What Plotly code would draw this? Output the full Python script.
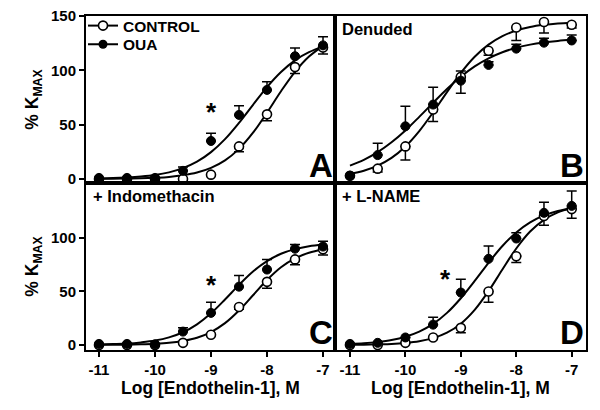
import plotly.graph_objects as go
from plotly.subplots import make_subplots

FONT = "Liberation Sans, Arial, sans-serif"

# ---- data ----
log_conc = [-11, -10.5, -10, -9.5, -9, -8.5, -8, -7.5, -7]
curve_x = [-11, -10.75, -10.5, -10.25, -10, -9.75, -9.5, -9.25, -9,
           -8.75, -8.5, -8.25, -8, -7.75, -7.5, -7.25, -7]

x_tick_vals = [-11, -10, -9, -8, -7]
x_tick_text = ["-11", "-10", "-9", "-8", "-7"]
y_tick_vals_top = [0, 50, 100, 150]
y_tick_vals_bottom = [0, 50, 100]

panel_letters = ["A", "B", "C", "D"]
panel_titles = ["", "Denuded", "+ Indomethacin", "+ L-NAME"]
series_names = ["CONTROL", "OUA"]

# Panel A
A_ctrl = [0, 0, 0, 0, 4, 30, 59.5, 103, 121]
A_ctrl_err = [0, 0, 0, 0, 0, 5, 6, 6, 6]
A_oua = [1, 1, 1, 7.5, 35, 59, 82, 113, 123]
A_oua_err = [0, 0, 0, 3.5, 7, 8.5, 7.5, 7.5, 8]
A_ctrl_fit = [0.1, 0.2, 0.4, 0.6, 1.1, 1.9, 3.4, 5.9, 10.2, 17.1, 27.7, 42.6, 61.1, 80.8, 98.7, 112.7, 122.6]
A_oua_fit = [0.5, 0.8, 1.4, 2.3, 3.7, 6.1, 10.0, 15.9, 24.7, 36.7, 51.7, 68.3, 84.6, 98.5, 109.2, 116.7, 121.8]

# Panel B (Denuded)
B_ctrl = [3, 9.5, 30, 64, 94, 118, 139.5, 144.5, 142]
B_ctrl_err = [0, 3, 12.5, 11, 15, 4, 12, 10, 3]
B_oua = [3, 22, 48.5, 68.5, 90.5, 105, 120, 125.5, 127.5]
B_oua_err = [0, 11, 18.5, 16, 9, 3, 4, 4, 5]
B_ctrl_fit = [4.6, 7.6, 12.3, 19.4, 29.9, 44.1, 61.3, 80.0, 97.7, 112.6, 123.7, 131.5, 136.7, 139.9, 141.9, 143.2, 143.9]
B_oua_fit = [12.3, 17.6, 24.7, 33.8, 44.7, 57.2, 70.2, 82.9, 94.2, 103.7, 111.1, 116.7, 120.8, 123.7, 125.7, 127.1, 128.1]

# Panel C (+ Indomethacin)
C_ctrl = [0, 0, 0, 2, 9.5, 35.5, 59, 80, 89.5]
C_ctrl_err = [0, 0, 0, 0, 0, 2, 6, 5, 5.5]
C_oua = [1, 1, 0.5, 12.5, 30, 54.5, 70.5, 90, 92]
C_oua_err = [0, 0, 0, 3.5, 10, 10.5, 9.5, 4, 5]
C_ctrl_fit = [0.1, 0.2, 0.3, 0.6, 1.1, 2.0, 3.8, 6.8, 12.1, 20.4, 32.2, 46.5, 60.7, 72.6, 80.9, 86.2, 89.2]
C_oua_fit = [0.4, 0.8, 1.3, 2.4, 4.1, 7.1, 11.9, 19.3, 29.6, 42.5, 56.2, 68.7, 78.4, 85.3, 89.6, 92.3, 93.9]

# Panel D (+ L-NAME)
D_ctrl = [0, 0, 2, 7, 16, 50, 83, 120.5, 127]
D_ctrl_err = [0, 0, 0, 0, 4.5, 10, 6, 8.5, 8.5]
D_oua = [1, 2, 7, 19, 49, 80.5, 99.5, 123.5, 130]
D_oua_err = [0, 0, 0, 7, 12.5, 12, 5.5, 10, 14]
D_ctrl_fit = [0.2, 0.3, 0.6, 1.0, 1.9, 3.5, 6.4, 11.5, 19.9, 32.8, 50.3, 70.6, 90.2, 106.0, 117.0, 123.9, 128.0]
D_oua_fit = [1.0, 1.7, 2.9, 4.7, 7.7, 12.5, 19.7, 30.0, 43.7, 59.9, 76.8, 92.5, 105.2, 114.6, 121.1, 125.3, 127.9]

# significance markers: (panel index, x, y)
star_panels = [0, 2, 3]
star_x = [-9, -9, -9.28]
star_y = [62, 56, 62]

panels = [
    (A_ctrl, A_ctrl_err, A_oua, A_oua_err, A_ctrl_fit, A_oua_fit),
    (B_ctrl, B_ctrl_err, B_oua, B_oua_err, B_ctrl_fit, B_oua_fit),
    (C_ctrl, C_ctrl_err, C_oua, C_oua_err, C_ctrl_fit, C_oua_fit),
    (D_ctrl, D_ctrl_err, D_oua, D_oua_err, D_ctrl_fit, D_oua_fit),
]
positions = [(1, 1), (1, 2), (2, 1), (2, 2)]

fig = make_subplots(rows=2, cols=2, horizontal_spacing=0, vertical_spacing=0,
                    column_widths=[249, 251], row_heights=[167, 167])

zeros = [0] * len(log_conc)
for i, (pdata, (r, c)) in enumerate(zip(panels, positions)):
    ctrl, ctrl_err, oua, oua_err, ctrl_fit, oua_fit = pdata
    for fit in (ctrl_fit, oua_fit):
        fig.add_trace(go.Scatter(x=curve_x, y=fit, mode="lines",
                                 line=dict(color="black", width=2, shape="spline"),
                                 showlegend=False, hoverinfo="skip"), row=r, col=c)
    fig.add_trace(go.Scatter(
        x=log_conc, y=ctrl, mode="markers", showlegend=False,
        marker=dict(symbol="circle", size=9, color="white",
                    line=dict(color="black", width=1.6)),
        error_y=dict(type="data", symmetric=False, array=zeros, arrayminus=ctrl_err,
                     color="black", thickness=1.5, width=5)), row=r, col=c)
    fig.add_trace(go.Scatter(
        x=log_conc, y=oua, mode="markers", showlegend=False,
        marker=dict(symbol="circle", size=9, color="black",
                    line=dict(color="black", width=1)),
        error_y=dict(type="data", symmetric=False, array=oua_err, arrayminus=zeros,
                     color="black", thickness=1.5, width=5)), row=r, col=c)

# legend entries (one legend per row so the spacing can follow the reference)
fig.add_trace(go.Scatter(x=[None], y=[None], mode="lines+markers", name=series_names[0],
                         legend="legend",
                         line=dict(color="black", width=2),
                         marker=dict(size=9, color="white", line=dict(color="black", width=1.6))),
              row=1, col=1)
fig.add_trace(go.Scatter(x=[None], y=[None], mode="lines+markers", name=series_names[1],
                         legend="legend2",
                         line=dict(color="black", width=2),
                         marker=dict(size=9, color="black")),
              row=1, col=1)

axis_common = dict(showline=True, mirror=True, linewidth=2, linecolor="black",
                   showgrid=False, zeroline=False, automargin=False,
                   ticklabeloverflow="allow",
                   tickfont=dict(family=FONT, size=15, color="black", weight="bold"))
x_ranges = {1: [-11.232, -6.786], 2: [-11.27, -6.742]}
y_ranges = {1: [-3.7, 150.05], 2: [-4.7, 151.4]}
for (r, c) in positions:
    xa = dict(axis_common, range=x_ranges[c])
    ya = dict(axis_common, range=y_ranges[r])
    if r == 2:
        xa.update(ticks="outside", ticklen=5, tickwidth=2, tickcolor="black",
                  tickvals=x_tick_vals, ticktext=x_tick_text,
                  title=dict(text="Log [Endothelin-1], M",
                             font=dict(family=FONT, size=17.5, color="black", weight="bold"),
                             standoff=1))
    else:
        xa.update(ticks="", showticklabels=False)
    if c == 1:
        ya.update(ticks="outside", ticklen=5, tickwidth=2, tickcolor="black",
                  tickvals=y_tick_vals_top if r == 1 else y_tick_vals_bottom,
                  title=dict(text="% K<sub>MAX</sub>",
                             font=dict(family=FONT, size=17.5, color="black", weight="bold"),
                             standoff=8))
    else:
        ya.update(ticks="", showticklabels=False)
    fig.update_xaxes(xa, row=r, col=c)
    fig.update_yaxes(ya, row=r, col=c)

axis_ids = ["", "2", "3", "4"]
annotations = []
for i, aid in enumerate(axis_ids):
    annotations.append(dict(text=panel_letters[i], xref=f"x{aid} domain", yref=f"y{aid} domain",
                            x=1, y=0, xanchor="right", yanchor="bottom", showarrow=False,
                            xshift=0, yshift=-3,
                            font=dict(family=FONT, size=33, color="black", weight="bold")))
    if panel_titles[i]:
        annotations.append(dict(text=panel_titles[i], xref=f"x{aid} domain", yref=f"y{aid} domain",
                                x=0, y=1, xanchor="left", yanchor="top", showarrow=False,
                                xshift=5, yshift=-2,
                                font=dict(family=FONT, size=16.5, color="black", weight="bold")))
for p, sx, sy in zip(star_panels, star_x, star_y):
    aid = axis_ids[p]
    annotations.append(dict(text="*", xref=f"x{aid}", yref=f"y{aid}", x=sx, y=sy,
                            showarrow=False, yanchor="middle",
                            font=dict(family=FONT, size=26, color="black", weight="bold")))

legend_style = dict(xanchor="left", yanchor="middle", bgcolor="rgba(0,0,0,0)",
                    itemwidth=30, borderwidth=0,
                    font=dict(family=FONT, size=15.5, color="black", weight="bold"))
# the page body adds an 8px offset, so the figure is 8px smaller on each axis
fig.update_layout(
    width=592, height=402,
    margin=dict(l=78, r=14, t=8, b=60, autoexpand=False),
    paper_bgcolor="white", plot_bgcolor="white",
    annotations=annotations,
    showlegend=True,
    legend=dict(legend_style, x=-0.006, y=0.970),
    legend2=dict(legend_style, x=-0.006, y=0.914),
)

fig.write_html("out.html")
